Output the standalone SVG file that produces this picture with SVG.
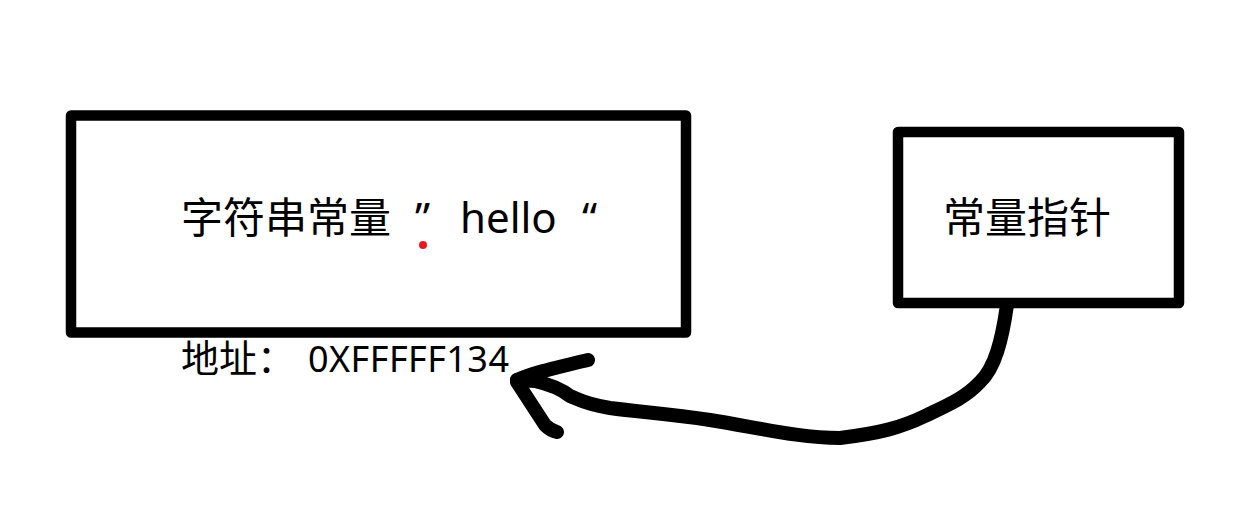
<svg xmlns="http://www.w3.org/2000/svg" width="1258" height="530" viewBox="0 0 1258 530">
<style>
.box{fill:none;stroke:#000;stroke-width:10.5;stroke-linejoin:round}
.ink{fill:none;stroke:#000;stroke-width:14;stroke-linecap:round;stroke-linejoin:round}
.t{font-family:"Noto Sans","Noto Sans CJK SC",sans-serif;fill:#000}
</style>
<rect width="1258" height="530" fill="#fff"/>
<g id="string-constant">
<rect class="box" x="71" y="115.5" width="615" height="217"/>
<text class="t" y="233" font-size="42"><tspan x="181">字符串常量</tspan><tspan x="415">”</tspan><tspan x="460">hello</tspan><tspan x="582">“</tspan></text>
<circle cx="423" cy="245" r="4" fill="#e8191e"/>
</g>
<g id="address-label">
<text class="t" y="372" font-size="36"><tspan x="181" font-size="38">地址：</tspan><tspan x="308" textLength="201" lengthAdjust="spacing">0XFFFFF134</tspan></text>
</g>
<g id="constant-pointer">
<rect class="box" x="898" y="132" width="281" height="171"/>
<text class="t" x="943" y="233" font-size="42">常量指针</text>
</g>
<g id="connectors">
<path class="ink" d="M1007,305 C1002,340 995,368 980,382 C965,398 948,405 925,416 C900,428 880,433 840,438 C800,438 760,428 710,420 C670,414 640,412 610,408 C585,404 580,400 570,396 C560,388 548,384 535,381 L517,380"/>
<path class="ink" d="M517,380 C535,372 555,368 588,360"/>
<path class="ink" d="M517,382 L545,425 C550,430 553,431 557,432"/>
</g>
</svg>
